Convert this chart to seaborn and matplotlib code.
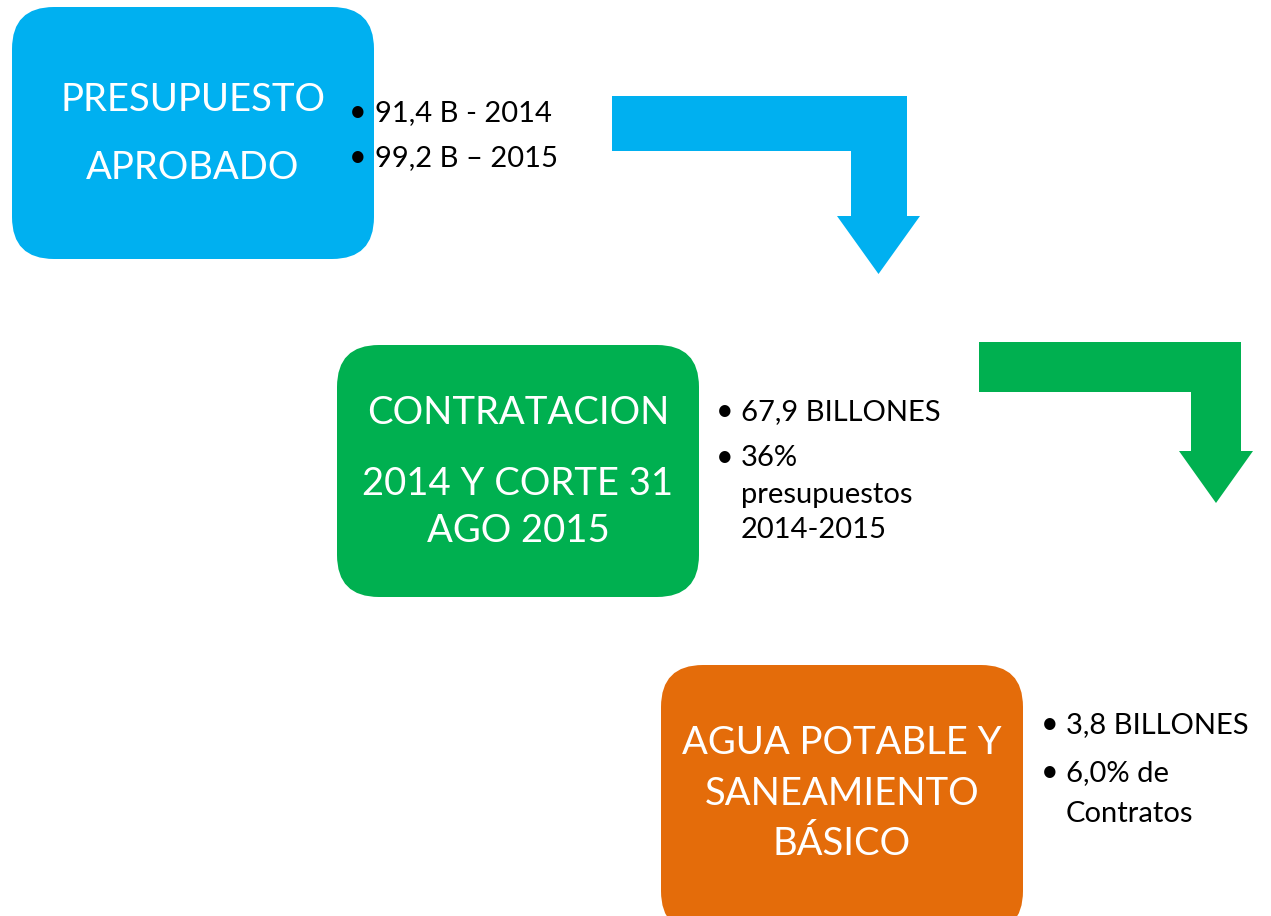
import matplotlib.pyplot as plt
import seaborn as sns
from matplotlib.patches import FancyBboxPatch, Polygon

sns.set_style("white")
plt.rcParams['font.family'] = ['Lato', 'DejaVu Sans']

# box texts (one list per line)
box_lines = [
    ["PRESUPUESTO", "APROBADO"],
    ["CONTRATACION", "2014 Y CORTE 31", "AGO 2015"],
    ["AGUA POTABLE Y", "SANEAMIENTO", "BÁSICO"],
]
# bullet texts, each bullet may wrap on several lines
bullet_lines = [
    [["91,4 B - 2014"], ["99,2 B – 2015"]],
    [["67,9 BILLONES"], ["36%", "presupuestos", "2014-2015"]],
    [["3,8 BILLONES"], ["6,0% de", "Contratos"]],
]
box_colors = ["#00B0F0", "#00B050", "#E46C0A"]

# layout (pixels, y going down)
box_xy = [(12, 7), (337, 345), (661, 665)]
box_size = [(362, 252), (362, 252), (362, 268)]
box_line_base = [[111, 179], [424, 495, 542], [754, 805, 855]]
bullet_x = [(349, 375), (716, 741), (1041, 1066)]
bullet_base = [[[121], [166]], [[420], [466, 503, 538]], [[733], [781, 822]]]
# bent arrows: x start, bar top, bar bottom, shaft right, shaft left, head left, head right, head top, tip
arrows = [
    (612, 96, 151, 907, 851, 837, 920, 216, 274),
    (979, 342, 392, 1241, 1191, 1179, 1253, 451, 503),
]

fig = plt.figure(figsize=(12.71, 9.16), dpi=100)
ax = fig.add_axes([0, 0, 1, 1])
ax.set_xlim(0, 1271)
ax.set_ylim(916, 0)
ax.axis('off')

for i, lines in enumerate(box_lines):
    x0, y0 = box_xy[i]
    w, h = box_size[i]
    ax.add_patch(FancyBboxPatch((x0, y0), w, h,
                                boxstyle="round,pad=0,rounding_size=42",
                                facecolor=box_colors[i], edgecolor='none'))
    cx = x0 + w / 2
    for txt, yb in zip(lines, box_line_base[i]):
        ax.text(cx, yb, txt, color='white', fontsize=27.5, ha='center', va='baseline')

    bx, tx = bullet_x[i]
    for item, bases in zip(bullet_lines[i], bullet_base[i]):
        ax.text(bx, bases[0], "•", color='black', fontsize=22, ha='left', va='baseline')
        for txt, yb in zip(item, bases):
            ax.text(tx, yb, txt, color='black', fontsize=21, ha='left', va='baseline')

for (xs, top, bot, sr, sl, hl, hr, ht, tip), col in zip(arrows, box_colors[:2]):
    tip_x = (hl + hr) / 2
    pts = [(xs, top), (sr, top), (sr, ht), (hr, ht), (tip_x, tip),
           (hl, ht), (sl, ht), (sl, bot), (xs, bot)]
    ax.add_patch(Polygon(pts, closed=True, facecolor=col, edgecolor='none'))

fig.savefig("out.png", dpi=100, facecolor='white')
